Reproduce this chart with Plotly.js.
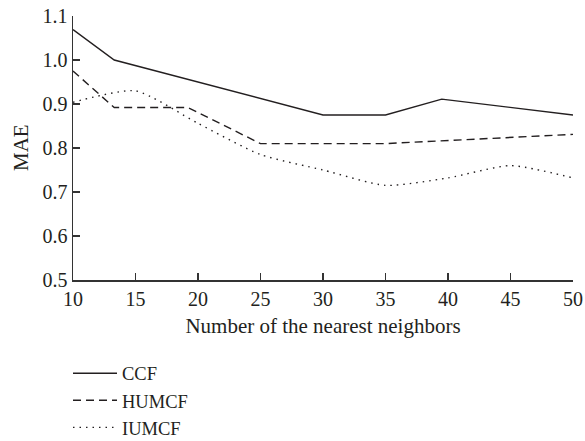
<!DOCTYPE html>
<html>
<head>
<meta charset="utf-8">
<script src="https://cdn.plot.ly/plotly-3.0.1.min.js"></script>
<style>
html,body{margin:0;padding:0;background:#fff;}
#chart{width:585px;height:441px;}
</style>
</head>
<body>
<div id="chart"></div>
<script>
// Data
const seriesNames = ["CCF", "HUMCF", "IUMCF"];
const ccfX = [10, 13.3, 30, 35, 39.5, 50];
const ccfY = [1.069, 1.0, 0.875, 0.875, 0.911, 0.875];
const humcfX = [10, 13.3, 19.2, 25, 35, 50];
const humcfY = [0.975, 0.892, 0.892, 0.81, 0.81, 0.831];
const iumcfX = [10, 15, 20, 25, 30, 35, 40, 45, 50];
const iumcfY = [0.904, 0.93, 0.856, 0.785, 0.75, 0.715, 0.732, 0.76, 0.732];
const xTicks = [10, 15, 20, 25, 30, 35, 40, 45, 50];
const yTicks = [0.5, 0.6, 0.7, 0.8, 0.9, 1.0, 1.1];
const xTitle = "Number of the nearest neighbors";
const yTitle = "MAE";

const ink = "#231f20";
const fam = "Liberation Serif, Times New Roman, serif";
const tickFont = {family: fam, size: 20, color: ink};
const titleFont = {family: fam, size: 21, color: ink};
const legendFont = {family: fam, size: 18.5, color: ink};

const traces = [
  {x: ccfX, y: ccfY, name: seriesNames[0], mode: "lines",
   line: {color: ink, width: 1.4}},
  {x: humcfX, y: humcfY, name: seriesNames[1], mode: "lines",
   line: {color: ink, width: 1.4, dash: "8px,5px"}},
  {x: iumcfX, y: iumcfY, name: seriesNames[2], mode: "lines",
   line: {color: ink, width: 1.4, dash: "1.5px,5px", shape: "spline", smoothing: 0.6}}
];

const layout = {
  width: 585, height: 441,
  margin: {l: 73, r: 12, t: 16, b: 161, autoexpand: false},
  paper_bgcolor: "#fff", plot_bgcolor: "#fff",
  font: tickFont,
  showlegend: true,
  legend: {
    x: -0.01, xanchor: "left", y: -0.283, yanchor: "top",
    font: legendFont,
    bgcolor: "rgba(0,0,0,0)", borderwidth: 0,
    itemwidth: 44,
    tracegroupgap: 0
  },
  xaxis: {
    range: [10, 50], tickvals: xTicks, ticktext: xTicks.map(String),
    showgrid: false, zeroline: false,
    showline: true, linecolor: "#333", linewidth: 1.5,
    ticks: "inside", ticklen: 7, tickwidth: 1.3, tickcolor: "#333",
    tickfont: tickFont,
    title: {text: xTitle, font: titleFont, standoff: 10}
  },
  yaxis: {
    range: [0.5, 1.1], tickvals: yTicks, ticktext: yTicks.map(v => v.toFixed(1)),
    showgrid: false, zeroline: false,
    showline: true, linecolor: "#333", linewidth: 1.5,
    ticks: "inside", ticklen: 7, tickwidth: 1.3, tickcolor: "#333",
    tickfont: tickFont
  },
  annotations: [{
    text: yTitle, font: titleFont, textangle: -90,
    xref: "paper", yref: "paper", x: -73/500, xanchor: "left", xshift: 7,
    y: 0.5, yanchor: "middle", showarrow: false
  }]
};

Plotly.newPlot("chart", traces, layout, {displayModeBar: false, staticPlot: true});
</script>
</body>
</html>
